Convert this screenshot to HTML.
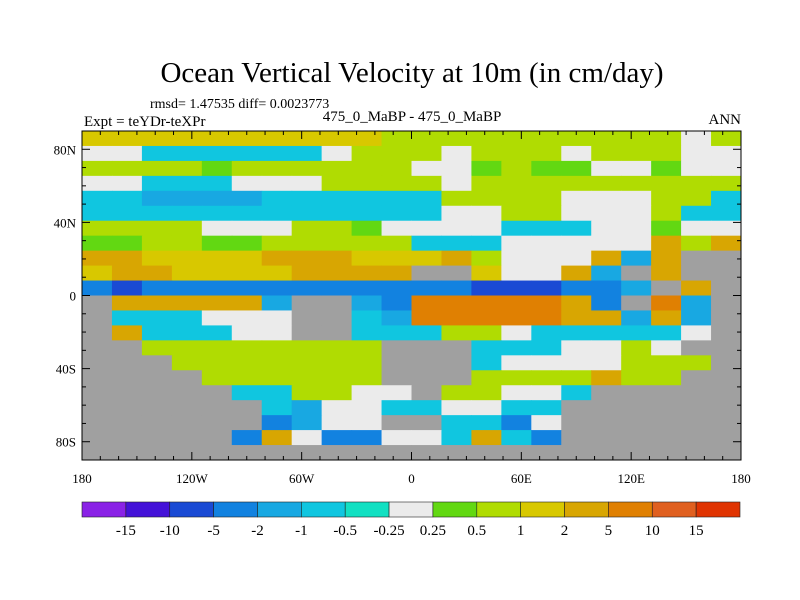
<!DOCTYPE html>
<html><head><meta charset="utf-8"><style>
body{margin:0;background:#fff;}
svg{display:block;font-family:"Liberation Serif",serif;}
</style></head><body>
<svg id="chart" width="800" height="600">
<text x="412" y="82" font-size="29" text-anchor="middle">Ocean Vertical Velocity at 10m (in cm/day)</text>
<text x="150" y="108" font-size="14">rmsd= 1.47535 diff= 0.0023773</text>
<text x="84" y="126" font-size="15">Expt = teYDr-teXPr</text>
<text x="412" y="121" font-size="15" text-anchor="middle">475_0_MaBP - 475_0_MaBP</text>
<text x="741" y="124" font-size="15" text-anchor="end">ANN</text>
<g id="cells"></g>
<g id="ticks"></g>
<rect x="82" y="131" width="659" height="329" fill="none" stroke="#000" stroke-width="1"/>
<g id="labels"></g>
<g id="cbar"></g>
</svg>
<script>
const levelLabels=["-15","-10","-5","-2","-1","-0.5","-0.25","0.25","0.5","1","2","5","10","15"];
const levelColors=["#8a22e6","#4412d8","#1a4ad4","#1282e0","#18a8e2","#10c6e0","#12e0c2","#ebebeb","#62d812","#b0dc02","#d8c800","#d8a602","#e08002","#e06020","#e03402"];
const lonTicks=[-180,-120,-60,0,60,120,180];
const lonLabels=["180","120W","60W","0","60E","120E","180"];
const latTicks=[80,40,0,-40,-80];
const latLabels=["80N","40N","0","40S","80S"];
const gridRows=[
"AAAAAAAAAA999999999979",
"7755555579997999799977",
"9999899999977898877877",
"7755577799997999999999",
"5544445555559999777995",
"5555555555557799777955",
"9999777998777755577877",
"8899889999955577777B9B",
"BBAAAABBBAAAB9777B4BLL",
"ABBAAAABBBBLLA77B4LBLL",
"3233333333333222334LBL",
"LBBBBB4LL43CCCCCB3LC4L",
"L555777LL54CCCCCBB4B4L",
"LB55577LL55599755555 7L".replace(' ',''),
"LL99999999LLL5557797LL",
"LLL9999999LLL57777999L",
"LLLL999999LLL9999B99LL",
"LLLLL559977L99775LLLLL",
"LLLLLL5477557755LLLLLL",
"LLLLLL3477LL5537LLLLLL",
"LLLLL3B733775B53LLLLLL",
"LLLLLLLLLLLLLLLLLLLLLL"];
const NS="http://www.w3.org/2000/svg";
const X0=82,X1=741,Y0=131,Y1=460;
const xLon=l=>X0+(l+180)/360*(X1-X0);
const yLat=l=>Y0+(90-l)/180*(Y1-Y0);
function mk(t,a){const e=document.createElementNS(NS,t);for(const k in a)e.setAttribute(k,a[k]);return e;}
const cells=document.getElementById('cells');
const nR=gridRows.length,nC=22;
gridRows.forEach((row,r)=>{
  for(let c=0;c<nC;c++){
    const ch=row[c]||'L';
    const lonA=-180+360*c/nC,lonB=-180+360*(c+1)/nC;
    const latA=90-180*r/nR,latB=90-180*(r+1)/nR;
    const x=xLon(lonA),y=yLat(latA);
    const fill=ch==='L'?'#a0a0a0':levelColors[parseInt(ch,16)];
    const e=mk('rect',{x:x,y:y,width:xLon(lonB)-x+0.5,height:yLat(latB)-y+0.5,fill:fill});
    
    
    cells.appendChild(e);
  }
});
const ticks=document.getElementById('ticks');
for(let l=-180;l<=180;l+=10){
  const x=xLon(l),len=(l%60===0)?8:4;
  ticks.appendChild(mk('line',{x1:x,y1:Y0,x2:x,y2:Y0+len,stroke:'#000'}));
  ticks.appendChild(mk('line',{x1:x,y1:Y1,x2:x,y2:Y1-len,stroke:'#000'}));
}
for(let l=-90;l<=90;l+=10){
  const y=yLat(l),len=(l%40===0)?8:4;
  ticks.appendChild(mk('line',{x1:X0,y1:y,x2:X0+len,y2:y,stroke:'#000'}));
  ticks.appendChild(mk('line',{x1:X1,y1:y,x2:X1-len,y2:y,stroke:'#000'}));
}
const labels=document.getElementById('labels');
lonTicks.forEach((l,i)=>{
  const t=mk('text',{x:xLon(l),y:483,'font-size':13,'text-anchor':'middle'});
  t.textContent=lonLabels[i];
  
  
  labels.appendChild(t);
});
latTicks.forEach((l,i)=>{
  const t=mk('text',{x:76,y:yLat(l)+5,'font-size':13,'text-anchor':'end'});
  t.textContent=latLabels[i];
  
  
  labels.appendChild(t);
});
const cb=document.getElementById('cbar');
const CB0=82,CB1=740,bw=(CB1-CB0)/levelColors.length;
levelColors.forEach((col,i)=>{
  const r=mk('rect',{x:CB0+i*bw,y:502,width:bw,height:15,fill:col,stroke:'#222','stroke-width':0.6});
  
  
  cb.appendChild(r);
});
levelLabels.forEach((s,i)=>{
  const t=mk('text',{x:CB0+(i+1)*bw,y:535,'font-size':15,'text-anchor':'middle'});
  t.textContent=s;
  
  
  cb.appendChild(t);
});
</script>
</body></html>
